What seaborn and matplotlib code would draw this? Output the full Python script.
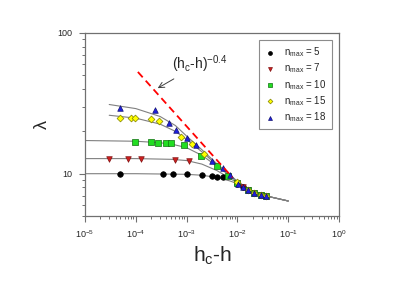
import numpy as np
import pandas as pd
import matplotlib
matplotlib.use('Agg')
import matplotlib.pyplot as plt
import matplotlib.ticker as mticker
import seaborn as sns

# measured points, one list pair per n_max
nmax_labels = ['5', '7', '10', '15', '18']

x_n5 = [4.9e-5, 3.4e-4, 5.4e-4, 1.0e-3, 2.0e-3, 3.1e-3, 4.0e-3, 5.1e-3, 1.0e-2, 1.3e-2, 1.6e-2, 2.1e-2, 2.9e-2, 3.7e-2]
y_n5 = [10.0, 10.0, 10.0, 9.9, 9.8, 9.7, 9.5, 9.4, 8.5, 8.0, 7.7, 7.3, 7.1, 6.9]

x_n7 = [3.0e-5, 7.0e-5, 1.26e-4, 6.0e-4, 1.1e-3, 1.0e-2, 1.3e-2, 1.6e-2, 2.1e-2, 2.9e-2, 3.7e-2]
y_n7 = [12.8, 12.8, 12.8, 12.6, 12.4, 8.6, 8.0, 7.7, 7.3, 7.1, 6.9]

x_n10 = [9.5e-5, 1.95e-4, 2.8e-4, 3.9e-4, 5.0e-4, 8.7e-4, 1.9e-3, 3.9e-3, 6.6e-3, 1.0e-2, 1.6e-2, 2.1e-2, 2.9e-2, 3.7e-2]
y_n10 = [16.9, 16.9, 16.6, 16.6, 16.4, 16.1, 13.4, 11.4, 9.7, 8.6, 7.7, 7.3, 7.1, 6.9]

x_n15 = [4.9e-5, 8.0e-5, 9.5e-5, 1.95e-4, 2.9e-4, 7.9e-4, 1.3e-3, 2.2e-3, 1.0e-2, 1.6e-2, 2.1e-2, 2.9e-2, 3.7e-2]
y_n15 = [24.7, 24.7, 24.7, 24.3, 23.5, 18.1, 16.3, 13.7, 8.7, 7.7, 7.3, 7.1, 6.9]

x_n18 = [4.9e-5, 2.4e-4, 4.5e-4, 6.3e-4, 1.0e-3, 1.5e-3, 3.2e-3, 5.1e-3, 7.2e-3, 1.05e-2, 1.3e-2, 1.6e-2, 2.1e-2, 2.9e-2, 3.7e-2]
y_n18 = [29.1, 28.2, 22.8, 20.3, 17.8, 16.1, 12.4, 10.9, 9.8, 8.5, 8.0, 7.7, 7.3, 7.1, 6.9]

# fitted curves
fx_n5 = [1e-5, 1e-4, 1e-3, 2e-3, 4e-3, 7e-3, 1e-2, 2e-2, 4e-2, 1e-1]
fy_n5 = [10.0, 10.0, 9.9, 9.75, 9.4, 8.9, 8.5, 7.5, 6.9, 6.4]
fx_n7 = [1e-5, 1e-4, 5e-4, 1e-3, 2e-3, 4e-3, 7e-3, 1e-2, 2e-2, 4e-2, 1e-1]
fy_n7 = [12.8, 12.8, 12.65, 12.4, 11.7, 10.5, 9.3, 8.6, 7.5, 6.9, 6.4]
fx_n10 = [1e-5, 1e-4, 3e-4, 6e-4, 1e-3, 2e-3, 4e-3, 7e-3, 1e-2, 2e-2, 4e-2, 1e-1]
fy_n10 = [17.2, 17.0, 16.6, 16.0, 15.3, 13.5, 11.3, 9.7, 8.7, 7.5, 6.9, 6.4]
fx_n15 = [3e-5, 1e-4, 3e-4, 6e-4, 1e-3, 2e-3, 4e-3, 7e-3, 1e-2, 2e-2, 4e-2, 1e-1]
fy_n15 = [26.0, 24.8, 22.5, 20.0, 17.5, 14.3, 11.5, 9.8, 8.8, 7.5, 6.9, 6.4]
fx_n18 = [3e-5, 1e-4, 3e-4, 6e-4, 1e-3, 2e-3, 4e-3, 7e-3, 1e-2, 2e-2, 4e-2, 1e-1]
fy_n18 = [31.0, 29.0, 25.5, 22.0, 18.5, 14.8, 11.7, 9.9, 8.8, 7.5, 6.9, 6.4]

# power law guide (h_c-h)^-0.4
guide_x = [1.1e-4, 8.0e-3]
guide_y = [52.8, 9.4]

sns.set_style('ticks')
plt.rcParams['font.family'] = ['Liberation Sans', 'DejaVu Sans']
plt.rcParams['mathtext.fontset'] = 'custom'
plt.rcParams['mathtext.rm'] = 'Liberation Sans'
plt.rcParams['mathtext.it'] = 'Liberation Sans'

pts = pd.concat([
    pd.DataFrame({'x': x_n5, 'y': y_n5, 'n': nmax_labels[0]}),
    pd.DataFrame({'x': x_n7, 'y': y_n7, 'n': nmax_labels[1]}),
    pd.DataFrame({'x': x_n10, 'y': y_n10, 'n': nmax_labels[2]}),
    pd.DataFrame({'x': x_n15, 'y': y_n15, 'n': nmax_labels[3]}),
    pd.DataFrame({'x': x_n18, 'y': y_n18, 'n': nmax_labels[4]}),
])
fits = pd.concat([
    pd.DataFrame({'x': fx_n5, 'y': fy_n5, 'n': nmax_labels[0]}),
    pd.DataFrame({'x': fx_n7, 'y': fy_n7, 'n': nmax_labels[1]}),
    pd.DataFrame({'x': fx_n10, 'y': fy_n10, 'n': nmax_labels[2]}),
    pd.DataFrame({'x': fx_n15, 'y': fy_n15, 'n': nmax_labels[3]}),
    pd.DataFrame({'x': fx_n18, 'y': fy_n18, 'n': nmax_labels[4]}),
])

fig = plt.figure(figsize=(3.97, 2.81), dpi=100)
ax = fig.add_axes([0.214, 0.231, 0.64, 0.652])

sns.lineplot(data=fits, x='x', y='y', units='n', estimator=None, color='#808080',
             lw=0.8, ax=ax, legend=False, zorder=2)

face = {'5': 'black', '7': '#cc1f1f', '10': '#22dd22', '15': '#ffff00', '18': '#1f1fdd'}
edge = {'5': 'black', '7': '#801010', '10': '#107010', '15': '#808000', '18': '#101070'}
mk = {'5': 'o', '7': 'v', '10': 's', '15': 'D', '18': '^'}
for n in nmax_labels:
    sub = pts[pts['n'] == n]
    sns.scatterplot(data=sub, x='x', y='y', marker=mk[n], color=face[n], edgecolor=edge[n],
                    s=16 if n != '15' else 12, linewidth=0.5, ax=ax, zorder=3,
                    label='n$_{max}$ = ' + n)

ax.plot(guide_x, guide_y, color='red', ls=(0, (4, 2.5)), lw=1.3, zorder=4)

ax.set_xscale('log')
ax.set_yscale('log')
ax.set_xlim(1e-5, 1)
ax.set_ylim(5, 100)
ax.yaxis.set_major_locator(mticker.FixedLocator([10, 100]))
ax.yaxis.set_major_formatter(mticker.FixedFormatter(['10', '100']))
ax.yaxis.set_minor_locator(mticker.LogLocator(base=10, subs=np.arange(2, 10)))
ax.yaxis.set_minor_formatter(mticker.NullFormatter())
ax.xaxis.set_major_locator(mticker.LogLocator(base=10, numticks=10))
ax.xaxis.set_minor_locator(mticker.LogLocator(base=10, subs=np.arange(2, 10), numticks=10))
ax.xaxis.set_minor_formatter(mticker.NullFormatter())

for s in ax.spines.values():
    s.set_color('#707070')
    s.set_linewidth(0.9)
ax.tick_params(which='major', length=4, width=0.8, color='#707070', labelsize=6.5, pad=5)
ax.tick_params(which='minor', length=2.5, width=0.7, color='#707070')

ax.set_xlabel('h$_{\\mathregular{c}}$-h', fontsize=15, labelpad=3)
ax.set_ylabel('λ', fontsize=13, labelpad=5)

ax.annotate('(h$_{c}$-h)$^{-0.4}$', xy=(2.7e-4, 40.5), xytext=(1.8e-3, 60),
            fontsize=10, ha='center', va='center',
            arrowprops=dict(arrowstyle='->', color='#404040', lw=0.7, shrinkA=1, shrinkB=0))

leg = ax.legend(loc='upper right', fontsize=7, frameon=True, fancybox=False,
                edgecolor='#707070', borderpad=0.5, labelspacing=0.25, handletextpad=0.9,
                handlelength=1.2, markerscale=0.7, bbox_to_anchor=(0.99, 0.985))
leg.get_frame().set_linewidth(0.8)

fig.savefig('out.png', dpi=100)
